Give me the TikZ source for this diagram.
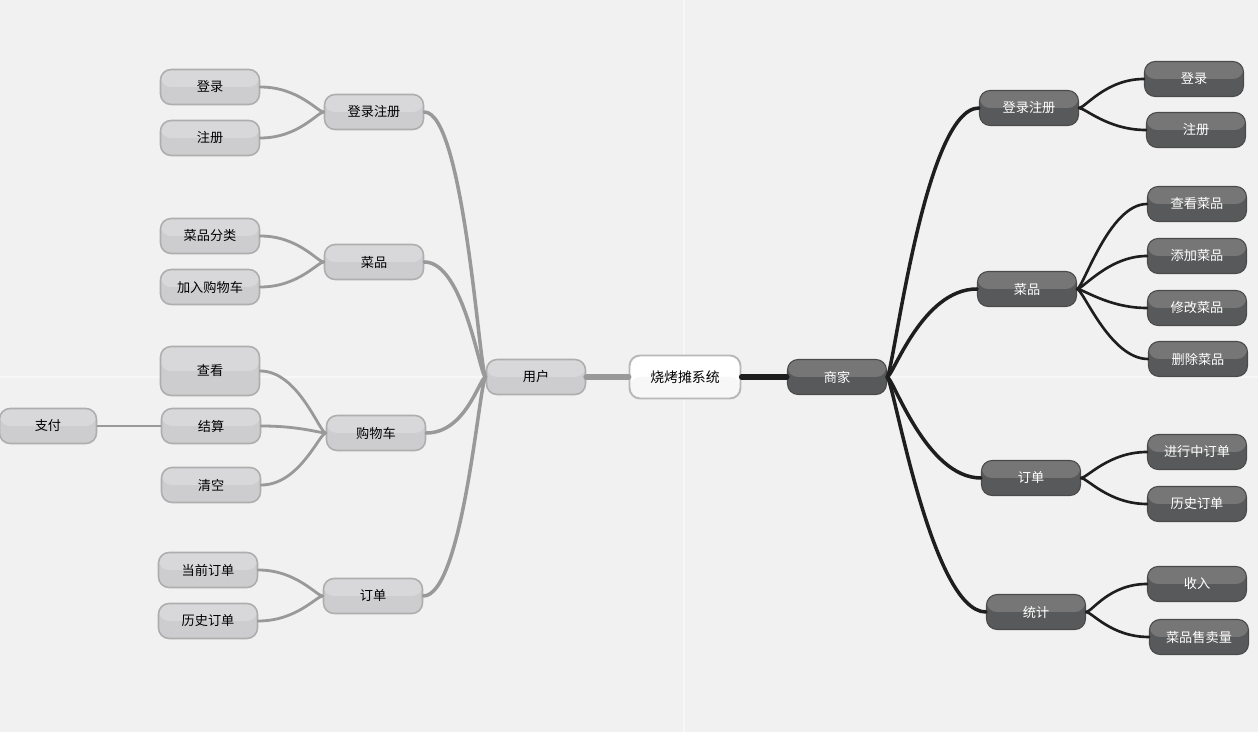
\documentclass[tikz,border=0pt]{standalone}
\usepackage{fontspec}
\setmainfont{Noto Sans CJK SC}
\definecolor{bgc}{HTML}{F1F1F1}
\definecolor{ltop}{HTML}{D8D8DA}
\definecolor{lbot}{HTML}{CDCDCF}
\definecolor{lline}{HTML}{AEAEAE}
\definecolor{dtop}{HTML}{767677}
\definecolor{dbot}{HTML}{58595A}
\definecolor{dline}{HTML}{4A4A4A}
\definecolor{lwire}{HTML}{999999}
\definecolor{dwire}{HTML}{1E1E1E}
\tikzset{
  box/.style={rounded corners=6pt,minimum width=1.98cm,minimum height=0.7cm,inner sep=0pt,
    font=\fontsize{7.5}{9}\selectfont},
  lnode/.style={box,draw=lline,line width=0.9pt,fill=lbot,
    path picture={\fill[ltop] (path picture bounding box.north west) rectangle (path picture bounding box.east);}},
  dnode/.style={box,draw=dline,line width=0.6pt,fill=dbot,text=white,
    path picture={\fill[dtop] (path picture bounding box.north west) rectangle (path picture bounding box.east);}},
  rootnode/.style={box,draw=black!28,line width=1.1pt,fill=white,minimum width=2.22cm,minimum height=0.86cm,
    font=\fontsize{7.9}{9}\selectfont,
    path picture={\fill[black!3] (path picture bounding box.west) rectangle (path picture bounding box.south east);}},
  lwire/.style={draw=lwire,line cap=round},
  dwire/.style={draw=dwire,line cap=round}
}
\begin{document}
\begin{tikzpicture}[x=0.02cm,y=-0.02cm]
  \useasboundingbox (0,0) rectangle (1258,732);
  \fill[bgc] (-5,-5) rectangle (1263,737);
  \draw[white!45!bgc,line width=1pt] (684,-5) -- (684,737);
  \draw[white!45!bgc,line width=1pt] (-5,377) -- (1263,377);

  % centre
  \node[rootnode] (root) at (685,377) {烧烤摊系统};
  \node[lnode] (user) at (536,377) {用户};
  \node[dnode] (shop) at (837,377) {商家};
  \draw[lwire,line width=3.3pt] (root.west) -- (user.east);
  \draw[dwire,line width=2.9pt] (root.east) -- (shop.west);

  % user side
  \node[lnode] (ulr) at (374,112) {登录注册};
  \node[lnode] (udish) at (374,262) {菜品};
  \node[lnode] (ucart) at (376,433) {购物车};
  \node[lnode] (uorder) at (373,596) {订单};
  \node[lnode] (ulogin) at (210,87) {登录};
  \node[lnode] (ureg) at (210,138) {注册};
  \node[lnode] (ucat) at (210,236) {菜品分类};
  \node[lnode] (uadd) at (210,287) {加入购物车};
  \node[lnode,minimum height=0.98cm] (uview) at (210,371) {查看};
  \node[lnode] (upay) at (211,426) {结算};
  \node[lnode] (uclear) at (211,485) {清空};
  \node[lnode] (ucur) at (208,570) {当前订单};
  \node[lnode] (uhist) at (208,621) {历史订单};
  \node[lnode,minimum width=1.94cm] (ufee) at (48,426) {支付};

  \foreach \c in {ulr,udish,ucart,uorder}
    \draw[lwire,line width=2pt] (user.west) .. controls +(-6,0) and +(40,0) .. (\c.east);
  \foreach \p/\c in {ulr/ulogin,ulr/ureg,udish/ucat,udish/uadd,ucart/uview,ucart/upay,ucart/uclear,uorder/ucur,uorder/uhist}
    \draw[lwire,line width=1.6pt] (\p.west) .. controls +(-6,0) and +(38,0) .. (\c.east);
  \draw[lwire,line width=0.7pt] (upay.west) -- (ufee.east);

  % shop side
  \node[dnode] (slr) at (1029,108) {登录注册};
  \node[dnode] (sdish) at (1027,289) {菜品};
  \node[dnode] (sorder) at (1031,478) {订单};
  \node[dnode] (sstat) at (1036,612) {统计};
  \node[dnode] (slogin) at (1194,79) {登录};
  \node[dnode] (sreg) at (1196,130) {注册};
  \node[dnode] (sview) at (1197,204) {查看菜品};
  \node[dnode] (sadd) at (1197,256) {添加菜品};
  \node[dnode] (sedit) at (1197,308) {修改菜品};
  \node[dnode] (sdel) at (1198,359) {删除菜品};
  \node[dnode] (snow) at (1197,452) {进行中订单};
  \node[dnode] (shist) at (1197,504) {历史订单};
  \node[dnode] (sinc) at (1197,584) {收入};
  \node[dnode] (ssale) at (1199,637) {菜品售卖量};

  \foreach \c in {slr,sdish,sorder,sstat}
    \draw[dwire,line width=2pt] (shop.east) .. controls +(6,0) and +(-55,0) .. (\c.west);
  \foreach \p/\c in {slr/slogin,slr/sreg,sdish/sview,sdish/sadd,sdish/sedit,sdish/sdel,sorder/snow,sorder/shist,sstat/sinc,sstat/ssale}
    \draw[dwire,line width=1.5pt] (\p.east) .. controls +(6,0) and +(-38,0) .. (\c.west);
\end{tikzpicture}
\end{document}
